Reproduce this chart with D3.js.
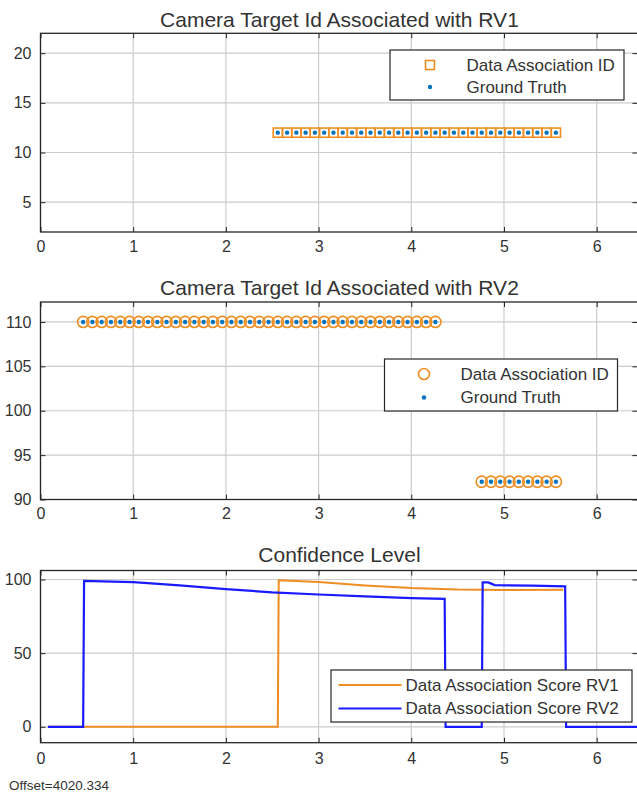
<!DOCTYPE html>
<html>
<head>
<meta charset="utf-8">
<script src="https://cdn.jsdelivr.net/npm/d3@7"></script>
<style>
  body { margin: 0; background: #fff; }
  svg text { font-family: "Liberation Sans", Arial, sans-serif; fill: #333; }
</style>
</head>
<body>
<script>
// x axis (seconds, relative to offset)
const xTicks = [0, 1, 2, 3, 4, 5, 6];

// panel 1: camera target id associated with RV1
const rv1Time = [2.56, 2.66, 2.76, 2.86, 2.96, 3.06, 3.16, 3.26, 3.36, 3.46, 3.56, 3.66, 3.76, 3.86, 3.96, 4.06,
                 4.16, 4.26, 4.36, 4.46, 4.56, 4.66, 4.76, 4.86, 4.96, 5.06, 5.16, 5.26, 5.36, 5.46, 5.56];
const rv1AssocId = [12, 12, 12, 12, 12, 12, 12, 12, 12, 12, 12, 12, 12, 12, 12, 12,
                    12, 12, 12, 12, 12, 12, 12, 12, 12, 12, 12, 12, 12, 12, 12];
const rv1TruthId = [12, 12, 12, 12, 12, 12, 12, 12, 12, 12, 12, 12, 12, 12, 12, 12,
                    12, 12, 12, 12, 12, 12, 12, 12, 12, 12, 12, 12, 12, 12, 12];
const rv1YTicks = [5, 10, 15, 20];

// panel 2: camera target id associated with RV2
const rv2Time = [0.46, 0.56, 0.66, 0.76, 0.86, 0.96, 1.06, 1.16, 1.26, 1.36, 1.46, 1.56, 1.66, 1.76, 1.86, 1.96,
                 2.06, 2.16, 2.26, 2.36, 2.46, 2.56, 2.66, 2.76, 2.86, 2.96, 3.06, 3.16, 3.26, 3.36, 3.46, 3.56,
                 3.66, 3.76, 3.86, 3.96, 4.06, 4.16, 4.26,
                 4.76, 4.86, 4.96, 5.06, 5.16, 5.26, 5.36, 5.46, 5.56];
const rv2AssocId = [110, 110, 110, 110, 110, 110, 110, 110, 110, 110, 110, 110, 110, 110, 110, 110,
                    110, 110, 110, 110, 110, 110, 110, 110, 110, 110, 110, 110, 110, 110, 110, 110,
                    110, 110, 110, 110, 110, 110, 110,
                    92, 92, 92, 92, 92, 92, 92, 92, 92];
const rv2TruthId = [110, 110, 110, 110, 110, 110, 110, 110, 110, 110, 110, 110, 110, 110, 110, 110,
                    110, 110, 110, 110, 110, 110, 110, 110, 110, 110, 110, 110, 110, 110, 110, 110,
                    110, 110, 110, 110, 110, 110, 110,
                    92, 92, 92, 92, 92, 92, 92, 92, 92];
const rv2YTicks = [90, 95, 100, 105, 110];

// panel 3: confidence level
const scoreTimeRV1 = [0.08, 2.56, 2.57, 3.0, 3.5, 4.0, 4.5, 5.0, 5.64];
const scoreRV1 = [0, 0, 99.5, 98.3, 96, 94.2, 93.2, 92.9, 93];
const scoreTimeRV2 = [0.08, 0.46, 0.47, 1.0, 1.5, 2.0, 2.5, 3.0, 3.5, 4.0, 4.36, 4.37, 4.76, 4.77, 4.83, 4.9,
                      5.3, 5.66, 5.67, 6.45];
const scoreRV2 = [0, 0, 99, 98.2, 96, 93.5, 91.3, 89.8, 88.6, 87.3, 86.8, 0, 0, 98, 98, 96.2,
                  95.8, 95.3, 0, 0];
const scoreYTicks = [0, 50, 100];

const orange = "#ee8d22";
const blue = "#0072bd";
const lineBlue = "#1a1aff";
const ink = "#262626";

const W = 637, H = 795;
const svg = d3.select("body").append("svg").attr("width", W).attr("height", H);

const x = d3.scaleLinear().domain([0, 6.45]).range([40.5, 638.4]);

function panel(id, top, bottom, yDomain, yTicks, title, titleY, labelDy) {
  const y = d3.scaleLinear().domain(yDomain).range([bottom, top]);
  const g = svg.append("g").attr("id", id);

  g.append("clipPath").attr("id", id + "-clip")
    .append("rect").attr("x", x.range()[0]).attr("y", top)
    .attr("width", x.range()[1] - x.range()[0]).attr("height", bottom - top);

  // grid
  g.append("g").selectAll("line").data(xTicks).join("line")
    .attr("x1", d => x(d)).attr("x2", d => x(d)).attr("y1", top).attr("y2", bottom)
    .attr("stroke", "#cccccc").attr("stroke-width", 1.2);
  g.append("g").selectAll("line").data(yTicks).join("line")
    .attr("x1", x.range()[0]).attr("x2", x.range()[1]).attr("y1", d => y(d)).attr("y2", d => y(d))
    .attr("stroke", "#cccccc").attr("stroke-width", 1.2);

  // axes (ticks inside like matlab)
  const xAxis = d3.axisBottom(x).tickValues(xTicks).tickFormat(d3.format("d")).tickSizeInner(-5).tickSizeOuter(0).tickPadding(labelDy);
  const yAxis = d3.axisLeft(y).tickValues(yTicks).tickFormat(d3.format("d")).tickSizeInner(-5).tickSizeOuter(0).tickPadding(9);
  const xa = g.append("g").attr("transform", `translate(0,${bottom})`).call(xAxis);
  const ya = g.append("g").attr("transform", `translate(${x.range()[0]},0)`).call(yAxis);
  g.append("g").attr("transform", `translate(${x.range()[1] - 1},0)`)
    .call(d3.axisRight(y).tickValues(yTicks).tickFormat("").tickSizeInner(-5).tickSizeOuter(0));
  g.append("g").attr("transform", `translate(0,${top})`)
    .call(d3.axisTop(x).tickValues(xTicks).tickFormat("").tickSizeInner(-5).tickSizeOuter(0));
  g.selectAll(".domain").remove();
  g.selectAll(".tick line").attr("stroke", ink);
  [xa, ya].forEach(a => a.selectAll("text").style("font-size", "16px")
    .style("font-family", "'Liberation Sans', Arial, sans-serif").attr("fill", "#333"));

  g.append("text").attr("x", (x.range()[0] + x.range()[1]) / 2).attr("y", titleY)
    .attr("text-anchor", "middle").attr("dominant-baseline", "central")
    .style("font-size", "21px").text(title);

  const plot = g.append("g").attr("clip-path", `url(#${id}-clip)`);
  return { g, y, plot, top, bottom };
}

function frame(p) {
  p.g.append("rect").attr("x", x.range()[0]).attr("y", p.top)
    .attr("width", x.range()[1] - x.range()[0]).attr("height", p.bottom - p.top)
    .attr("fill", "none").attr("stroke", ink).attr("stroke-width", 1.3);
}

function legend(p, box, rows) {
  const lg = p.g.append("g");
  lg.append("rect").attr("x", box.x).attr("y", box.y).attr("width", box.w).attr("height", box.h)
    .attr("fill", "#fff").attr("stroke", ink).attr("stroke-width", 1.2);
  rows.forEach((r, i) => {
    const cy = box.rowY[i];
    if (r.kind === "square") {
      lg.append("rect").attr("x", box.mx - 4.5).attr("y", cy - 4.5).attr("width", 9).attr("height", 9)
        .attr("fill", "none").attr("stroke", orange).attr("stroke-width", 1.6);
    } else if (r.kind === "circle") {
      lg.append("circle").attr("cx", box.mx).attr("cy", cy).attr("r", 5.5)
        .attr("fill", "none").attr("stroke", orange).attr("stroke-width", 1.6);
    } else if (r.kind === "dot") {
      lg.append("circle").attr("cx", box.mx).attr("cy", cy).attr("r", 2.2).attr("fill", blue);
    } else {
      lg.append("line").attr("x1", box.mx).attr("x2", box.mx + 63).attr("y1", cy).attr("y2", cy)
        .attr("stroke", r.color).attr("stroke-width", 2.2);
    }
    lg.append("text").attr("x", box.tx).attr("y", cy).attr("dominant-baseline", "central")
      .style("font-size", "17px").text(r.label);
  });
}

// ---- panel 1
const p1 = panel("p1", 33.3, 232, [2, 22], rv1YTicks, "Camera Target Id Associated with RV1", 19, 9);
const d1 = rv1Time.map((t, i) => ({ t, a: rv1AssocId[i], g: rv1TruthId[i] }));
p1.plot.selectAll("rect.m").data(d1).join("rect").attr("class", "m")
  .attr("x", d => x(d.t) - 4.6).attr("y", d => p1.y(d.a) - 4.6).attr("width", 9.2).attr("height", 9.2)
  .attr("fill", "none").attr("stroke", orange).attr("stroke-width", 1.6);
p1.plot.selectAll("circle.g").data(d1).join("circle").attr("class", "g")
  .attr("cx", d => x(d.t)).attr("cy", d => p1.y(d.g)).attr("r", 2.2).attr("fill", blue);
frame(p1);
legend(p1, { x: 390, y: 50, w: 234, h: 50, mx: 430, tx: 466.5, rowY: [65, 87] }, [
  { kind: "square", label: "Data Association ID" },
  { kind: "dot", label: "Ground Truth" }
]);

// ---- panel 2
const p2 = panel("p2", 302, 499.5, [90, 112.25], rv2YTicks, "Camera Target Id Associated with RV2", 287, 8);
const d2 = rv2Time.map((t, i) => ({ t, a: rv2AssocId[i], g: rv2TruthId[i] }));
p2.plot.selectAll("circle.m").data(d2).join("circle").attr("class", "m")
  .attr("cx", d => x(d.t)).attr("cy", d => p2.y(d.a)).attr("r", 5.6)
  .attr("fill", "none").attr("stroke", orange).attr("stroke-width", 1.6);
p2.plot.selectAll("circle.g").data(d2).join("circle").attr("class", "g")
  .attr("cx", d => x(d.t)).attr("cy", d => p2.y(d.g)).attr("r", 2.2).attr("fill", blue);
frame(p2);
legend(p2, { x: 384.5, y: 359, w: 233, h: 52, mx: 424, tx: 460.5, rowY: [374, 397.5] }, [
  { kind: "circle", label: "Data Association ID" },
  { kind: "dot", label: "Ground Truth" }
]);

// ---- panel 3
const p3 = panel("p3", 570.5, 742.7, [-10.8, 106.1], scoreYTicks, "Confidence Level", 554, 10);
const line = d3.line().x(d => x(d[0])).y(d => p3.y(d[1]));
p3.plot.append("path").datum(scoreTimeRV1.map((t, i) => [t, scoreRV1[i]]))
  .attr("d", line).attr("fill", "none").attr("stroke", orange).attr("stroke-width", 2);
p3.plot.append("path").datum(scoreTimeRV2.map((t, i) => [t, scoreRV2[i]]))
  .attr("d", line).attr("fill", "none").attr("stroke", lineBlue).attr("stroke-width", 2.2);
frame(p3);
legend(p3, { x: 331, y: 670, w: 301, h: 52, mx: 338.5, tx: 405.5, rowY: [685, 708.5] }, [
  { kind: "line", color: orange, label: "Data Association Score RV1" },
  { kind: "line", color: lineBlue, label: "Data Association Score RV2" }
]);

svg.append("text").attr("x", 9).attr("y", 785).attr("dominant-baseline", "central")
  .style("font-size", "13.5px").text("Offset=4020.334");
</script>
</body>
</html>
